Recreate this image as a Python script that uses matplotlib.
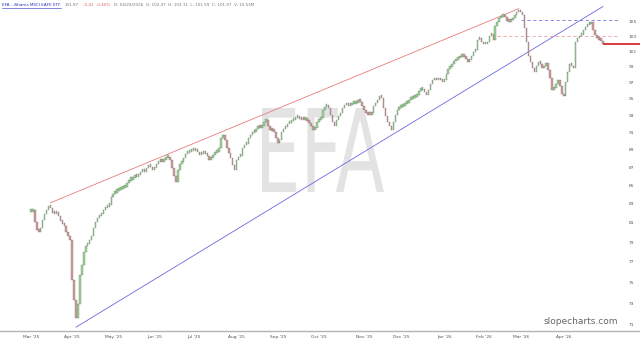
import matplotlib
matplotlib.use("Agg")
import matplotlib.pyplot as plt
from matplotlib.lines import Line2D
from matplotlib.ticker import FixedLocator, NullLocator, NullFormatter
from matplotlib.textpath import TextPath
from matplotlib.patches import PathPatch
from matplotlib.font_manager import FontProperties
from matplotlib.transforms import Affine2D
import numpy as np
import pandas as pd

# --- data -----------------------------------------------------------------
symbol = "EFA"
header_name = "EFA - iShares MSCI EAFE ETF"
header_last = "101.97"
header_change = "-0.41  -0.40%"
header_rest = "D: 04/29/2026  O: 102.47  H: 103.11  L: 101.59  C: 101.97  V: 10.53M"

start_date = "2025-03-03"
market_holidays = ["2025-04-18", "2025-05-26", "2025-06-19", "2025-07-04",
                   "2025-09-01", "2025-11-27", "2025-12-25", "2026-01-01",
                   "2026-01-19", "2026-02-16", "2026-04-03"]

closes = [
    82.1, 82.3, 81.1, 80.2, 80.0, 80.4, 81.3, 81.9, 82.3, 82.8,
    82.5, 82.0, 81.9, 82.1, 81.7, 81.2, 80.9, 80.6, 80.0, 79.6,
    79.2, 75.2, 73.3, 71.6, 72.9, 75.7, 76.7, 78.0, 78.6, 78.8,
    79.2, 79.6, 80.4, 81.1, 81.5, 81.7, 81.9, 82.3, 82.5, 82.7, 82.9,
    83.7, 84.0, 84.2, 84.4, 84.5, 84.6, 84.7, 84.8, 85.2, 85.5,
    85.6, 85.8, 86.0, 85.9, 86.1, 86.5, 86.7, 86.5, 86.9, 87.1,
    87.0, 86.7, 86.9, 87.4, 87.6, 87.8, 87.6, 87.8, 88.0, 88.2,
    87.8, 86.9, 86.0, 85.4, 86.7, 87.4, 87.6, 88.0, 88.5, 88.6,
    88.7, 88.8, 88.8, 88.9, 88.7, 88.4, 88.5, 88.7, 88.5, 88.3, 87.8,
    88.0, 88.4, 88.6, 88.7, 89.2, 90.3, 90.7, 90.1, 89.2, 88.6,
    88.0, 87.2, 86.7, 87.8, 88.1, 88.3, 89.2, 89.5, 89.6, 90.3,
    90.7, 90.9, 91.0, 91.4, 91.6, 91.5, 91.7, 92.2, 92.4, 91.7,
    91.3, 91.1, 91.0, 90.3, 89.8, 90.1, 91.0, 91.4, 91.6, 92.0,
    92.1, 92.3, 92.4, 92.7, 92.7, 92.6, 92.5, 92.4, 92.6, 92.3, 92.1,
    91.7, 91.3, 91.5, 92.2, 92.4, 92.7, 93.6, 94.0, 94.1, 93.9,
    93.0, 92.2, 91.7, 92.4, 92.9, 93.3, 93.9, 94.2, 94.4, 94.1,
    94.2, 94.4, 94.4, 94.5, 94.7, 94.6, 94.1, 93.6, 93.3, 93.1,
    93.0, 93.3, 94.1, 94.5, 94.9, 95.3, 95.1, 93.9, 92.9, 92.2,
    91.7, 91.3, 92.2, 93.1, 93.6, 93.9, 94.0, 94.1, 94.4, 94.5, 94.9,
    95.0, 95.1, 95.2, 95.5, 96.0, 96.1, 96.2, 95.8, 95.5, 96.1,
    96.8, 97.3, 97.5, 97.3, 97.5, 97.3, 97.1, 97.3, 98.1, 98.7,
    99.0, 99.4, 99.7, 99.9, 100.1, 100.3, 100.4, 100.3, 100.0, 99.6,
    99.9, 100.4, 100.9, 101.2, 102.5, 102.7, 102.2, 101.9, 101.9, 102.2,
    103.0, 103.3, 102.5, 104.3, 104.9, 105.4, 105.6, 105.8, 105.5, 105.0, 104.9,
    105.1, 105.4, 105.9, 106.2, 106.3, 106.2, 105.9, 104.1, 102.2, 100.4,
    99.6, 98.8, 98.3, 99.1, 99.6, 99.4, 98.8, 99.1, 99.5, 98.6,
    97.6, 96.1, 96.3, 96.8, 97.3, 96.6, 95.6, 95.3, 97.1, 98.3,
    99.4, 99.1, 98.8, 102.2, 102.7, 103.0, 103.1, 103.8, 104.2, 104.5,
    104.6, 104.9, 103.8, 103.1, 102.7, 102.5, 102.4, 102.0,
]

# trend lines as (bar, price) anchors
red_trend = [(10, 83.1), (249, 106.7)]
blue_trend = [(23, 70.8), (292, 107.0)]
# horizontal levels: (price, first bar)
blue_level = (105.1, 250)
pink_level = (103.0, 238)
last_price = 102.0

price_ticks = list(range(71, 106, 2))

# --- prep -----------------------------------------------------------------
dates = pd.bdate_range(start_date, periods=len(closes), freq="C",
                       holidays=market_holidays)
closes = np.array(closes)
opens = np.r_[closes[0], closes[:-1]]
idx = np.arange(len(closes))
up = closes >= opens
body_lo = np.minimum(opens, closes)
body_h = np.maximum(np.abs(closes - opens), 0.35)

month_pos = [i for i in range(len(dates)) if i == 0 or dates[i].month != dates[i - 1].month]
month_lab = [dates[i].strftime("%b '%y") for i in month_pos]

# --- figure ---------------------------------------------------------------
fig = plt.figure(figsize=(6.4, 3.42), dpi=100)
ax = fig.add_axes([0, 11 / 342, 620 / 640, 331 / 342])

x_lo, x_hi = -15.8, 300.7
ax.set_xlim(x_lo, x_hi)
ax.set_yscale("log")
ax.set_ylim(70.45, 107.9)

# watermark, squeezed into the narrow box it has on the reference
tp = TextPath((0, 0), symbol, size=100, prop=FontProperties(family="DejaVu Sans"))
bb = tp.get_extents()
wm_tr = Affine2D().translate(-bb.x0, -bb.y0).scale(122 / bb.width, 84 / bb.height).translate(262, 150)
ax.add_patch(PathPatch(tp, transform=wm_tr, facecolor="#e3e3e3", edgecolor="none", zorder=0))

ax.bar(idx[up], body_h[up], bottom=body_lo[up], width=0.75, color="#96dc90",
       edgecolor="#707070", linewidth=0.25, zorder=3)
ax.bar(idx[~up], body_h[~up], bottom=body_lo[~up], width=0.75, color="#d89a9a",
       edgecolor="#707070", linewidth=0.25, zorder=3)

(rx0, ry0), (rx1, ry1) = red_trend
ax.plot([rx0, rx1], [ry0, ry1], color="#e87c7c", lw=0.6, zorder=2)
(bx0, by0), (bx1, by1) = blue_trend
ax.plot([bx0, bx1], [by0, by1], color="#6a6ae0", lw=0.6, zorder=2)

ax.plot([blue_level[1], x_hi], [blue_level[0]] * 2, color="#7a7ae0", lw=0.6,
        dashes=(4, 3), zorder=2)
ax.plot([pink_level[1], x_hi], [pink_level[0]] * 2, color="#eaa0a0", lw=0.6,
        dashes=(4, 3), zorder=2)
ax.plot([len(closes) - 0.5, x_hi + 12], [last_price] * 2, color="#d42a2a", lw=1.3,
        clip_on=False, zorder=4)

for s in ax.spines.values():
    s.set_visible(False)

ax.xaxis.set_major_locator(FixedLocator(month_pos))
ax.set_xticklabels(month_lab)
ax.tick_params(axis="x", length=0, labelsize=3.2, colors="#555555", pad=3)

ax.yaxis.tick_right()
ax.yaxis.set_major_locator(FixedLocator(price_ticks))
ax.yaxis.set_minor_locator(NullLocator())
ax.yaxis.set_minor_formatter(NullFormatter())
ax.set_yticklabels([str(t) for t in price_ticks])
ax.tick_params(axis="y", length=0, labelsize=3.2, colors="#555555", pad=6)

fig.add_artist(Line2D([0, 1], [11 / 342, 11 / 342], color="#b4b4b4", lw=1.0))

ax.text(0.997, 0.015, "slopecharts.com", transform=ax.transAxes, ha="right",
        va="bottom", fontsize=6.5, color="#666666")

# header line, pieces laid out one after another
hy = 1 - 4.5 / 342
renderer = fig.canvas.get_renderer()
hx = 2
for txt, col in [(header_name, "#2a2ac0"), (header_last, "#777777"),
                 (header_change, "#e06060"), (header_rest, "#777777")]:
    t = fig.text(hx / 640, hy, txt, fontsize=3.0, color=col, va="center")
    w = t.get_window_extent(renderer).width
    if col == "#2a2ac0":
        fig.add_artist(Line2D([hx / 640, (hx + w) / 640], [hy - 3 / 342] * 2,
                              color=col, lw=0.4))
    hx += w + 4

fig.savefig("out.png", dpi=100)
